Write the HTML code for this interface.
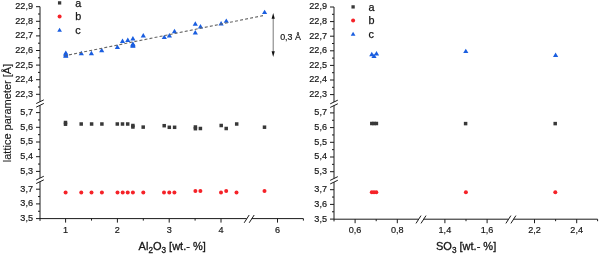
<!DOCTYPE html>
<html><head><meta charset="utf-8"><title>lattice parameter</title>
<style>
html,body{margin:0;padding:0;background:#fff;width:600px;height:255px;overflow:hidden}
svg{display:block}
text{font-family:"Liberation Sans", Arial, sans-serif;fill:#151515;stroke:#151515;stroke-width:0.18px}
.ti{stroke-width:0.3px}
.lg{stroke-width:0.25px}
.yt{stroke-width:0.1px}
</style></head><body>
<svg width="600" height="255" viewBox="0 0 600 255">
<rect width="600" height="255" fill="#fff"/>
<line x1="40.00" y1="6.70" x2="40.00" y2="101.70" stroke="#1a1a1a" stroke-width="1.0" />
<line x1="40.00" y1="105.30" x2="40.00" y2="178.10" stroke="#1a1a1a" stroke-width="1.0" />
<line x1="40.00" y1="181.70" x2="40.00" y2="220.90" stroke="#1a1a1a" stroke-width="1.0" />
<line x1="36.20" y1="103.55" x2="43.80" y2="99.85" stroke="#1a1a1a" stroke-width="1.0" />
<line x1="36.20" y1="107.15" x2="43.80" y2="103.45" stroke="#1a1a1a" stroke-width="1.0" />
<line x1="36.20" y1="179.95" x2="43.80" y2="176.25" stroke="#1a1a1a" stroke-width="1.0" />
<line x1="36.20" y1="183.55" x2="43.80" y2="179.85" stroke="#1a1a1a" stroke-width="1.0" />
<line x1="36.00" y1="94.30" x2="40.00" y2="94.30" stroke="#1a1a1a" stroke-width="1.0" />
<text x="33.00" y="96.70" font-size="9.1" text-anchor="end" >22,3</text>
<line x1="36.00" y1="79.70" x2="40.00" y2="79.70" stroke="#1a1a1a" stroke-width="1.0" />
<text x="33.00" y="82.10" font-size="9.1" text-anchor="end" >22,4</text>
<line x1="36.00" y1="65.10" x2="40.00" y2="65.10" stroke="#1a1a1a" stroke-width="1.0" />
<text x="33.00" y="67.50" font-size="9.1" text-anchor="end" >22,5</text>
<line x1="36.00" y1="50.50" x2="40.00" y2="50.50" stroke="#1a1a1a" stroke-width="1.0" />
<text x="33.00" y="52.90" font-size="9.1" text-anchor="end" >22,6</text>
<line x1="36.00" y1="35.90" x2="40.00" y2="35.90" stroke="#1a1a1a" stroke-width="1.0" />
<text x="33.00" y="38.30" font-size="9.1" text-anchor="end" >22,7</text>
<line x1="36.00" y1="21.30" x2="40.00" y2="21.30" stroke="#1a1a1a" stroke-width="1.0" />
<text x="33.00" y="23.70" font-size="9.1" text-anchor="end" >22,8</text>
<line x1="36.00" y1="6.70" x2="40.00" y2="6.70" stroke="#1a1a1a" stroke-width="1.0" />
<text x="33.00" y="9.10" font-size="9.1" text-anchor="end" >22,9</text>
<line x1="38.00" y1="87.00" x2="40.00" y2="87.00" stroke="#1a1a1a" stroke-width="1.0" />
<line x1="38.00" y1="72.40" x2="40.00" y2="72.40" stroke="#1a1a1a" stroke-width="1.0" />
<line x1="38.00" y1="57.80" x2="40.00" y2="57.80" stroke="#1a1a1a" stroke-width="1.0" />
<line x1="38.00" y1="43.20" x2="40.00" y2="43.20" stroke="#1a1a1a" stroke-width="1.0" />
<line x1="38.00" y1="28.60" x2="40.00" y2="28.60" stroke="#1a1a1a" stroke-width="1.0" />
<line x1="38.00" y1="14.00" x2="40.00" y2="14.00" stroke="#1a1a1a" stroke-width="1.0" />
<line x1="36.00" y1="171.40" x2="40.00" y2="171.40" stroke="#1a1a1a" stroke-width="1.0" />
<text x="33.00" y="173.80" font-size="9.1" text-anchor="end" >5,3</text>
<line x1="36.00" y1="156.70" x2="40.00" y2="156.70" stroke="#1a1a1a" stroke-width="1.0" />
<text x="33.00" y="159.10" font-size="9.1" text-anchor="end" >5,4</text>
<line x1="36.00" y1="142.00" x2="40.00" y2="142.00" stroke="#1a1a1a" stroke-width="1.0" />
<text x="33.00" y="144.40" font-size="9.1" text-anchor="end" >5,5</text>
<line x1="36.00" y1="127.30" x2="40.00" y2="127.30" stroke="#1a1a1a" stroke-width="1.0" />
<text x="33.00" y="129.70" font-size="9.1" text-anchor="end" >5,6</text>
<line x1="36.00" y1="112.60" x2="40.00" y2="112.60" stroke="#1a1a1a" stroke-width="1.0" />
<text x="33.00" y="115.00" font-size="9.1" text-anchor="end" >5,7</text>
<line x1="38.00" y1="164.05" x2="40.00" y2="164.05" stroke="#1a1a1a" stroke-width="1.0" />
<line x1="38.00" y1="149.35" x2="40.00" y2="149.35" stroke="#1a1a1a" stroke-width="1.0" />
<line x1="38.00" y1="134.65" x2="40.00" y2="134.65" stroke="#1a1a1a" stroke-width="1.0" />
<line x1="38.00" y1="119.95" x2="40.00" y2="119.95" stroke="#1a1a1a" stroke-width="1.0" />
<line x1="36.00" y1="218.60" x2="40.00" y2="218.60" stroke="#1a1a1a" stroke-width="1.0" />
<text x="33.00" y="221.00" font-size="9.1" text-anchor="end" >3,5</text>
<line x1="36.00" y1="203.90" x2="40.00" y2="203.90" stroke="#1a1a1a" stroke-width="1.0" />
<text x="33.00" y="206.30" font-size="9.1" text-anchor="end" >3,6</text>
<line x1="36.00" y1="189.20" x2="40.00" y2="189.20" stroke="#1a1a1a" stroke-width="1.0" />
<text x="33.00" y="191.60" font-size="9.1" text-anchor="end" >3,7</text>
<line x1="38.00" y1="211.25" x2="40.00" y2="211.25" stroke="#1a1a1a" stroke-width="1.0" />
<line x1="38.00" y1="196.55" x2="40.00" y2="196.55" stroke="#1a1a1a" stroke-width="1.0" />
<line x1="40.00" y1="218.60" x2="246.70" y2="218.60" stroke="#1a1a1a" stroke-width="1.0" />
<line x1="251.70" y1="218.60" x2="303.40" y2="218.60" stroke="#1a1a1a" stroke-width="1.0" />
<line x1="244.20" y1="222.80" x2="249.20" y2="215.00" stroke="#1a1a1a" stroke-width="1.0" />
<line x1="249.20" y1="222.80" x2="254.20" y2="215.00" stroke="#1a1a1a" stroke-width="1.0" />
<line x1="65.60" y1="218.60" x2="65.60" y2="222.60" stroke="#1a1a1a" stroke-width="1.0" />
<text x="65.60" y="233.00" font-size="9.1" text-anchor="middle" >1</text>
<line x1="117.40" y1="218.60" x2="117.40" y2="222.60" stroke="#1a1a1a" stroke-width="1.0" />
<text x="117.40" y="233.00" font-size="9.1" text-anchor="middle" >2</text>
<line x1="169.20" y1="218.60" x2="169.20" y2="222.60" stroke="#1a1a1a" stroke-width="1.0" />
<text x="169.20" y="233.00" font-size="9.1" text-anchor="middle" >3</text>
<line x1="221.00" y1="218.60" x2="221.00" y2="222.60" stroke="#1a1a1a" stroke-width="1.0" />
<text x="221.00" y="233.00" font-size="9.1" text-anchor="middle" >4</text>
<line x1="277.50" y1="218.60" x2="277.50" y2="222.60" stroke="#1a1a1a" stroke-width="1.0" />
<text x="277.50" y="233.00" font-size="9.1" text-anchor="middle" >6</text>
<line x1="91.50" y1="218.60" x2="91.50" y2="220.60" stroke="#1a1a1a" stroke-width="1.0" />
<line x1="143.30" y1="218.60" x2="143.30" y2="220.60" stroke="#1a1a1a" stroke-width="1.0" />
<line x1="195.10" y1="218.60" x2="195.10" y2="220.60" stroke="#1a1a1a" stroke-width="1.0" />
<line x1="303.40" y1="218.60" x2="303.40" y2="220.60" stroke="#1a1a1a" stroke-width="1.0" />
<line x1="334.00" y1="7.00" x2="334.00" y2="102.00" stroke="#1a1a1a" stroke-width="1.0" />
<line x1="334.00" y1="105.60" x2="334.00" y2="178.50" stroke="#1a1a1a" stroke-width="1.0" />
<line x1="334.00" y1="182.10" x2="334.00" y2="221.40" stroke="#1a1a1a" stroke-width="1.0" />
<line x1="330.20" y1="103.85" x2="337.80" y2="100.15" stroke="#1a1a1a" stroke-width="1.0" />
<line x1="330.20" y1="107.45" x2="337.80" y2="103.75" stroke="#1a1a1a" stroke-width="1.0" />
<line x1="330.20" y1="180.35" x2="337.80" y2="176.65" stroke="#1a1a1a" stroke-width="1.0" />
<line x1="330.20" y1="183.95" x2="337.80" y2="180.25" stroke="#1a1a1a" stroke-width="1.0" />
<line x1="330.00" y1="94.60" x2="334.00" y2="94.60" stroke="#1a1a1a" stroke-width="1.0" />
<text x="327.00" y="97.00" font-size="9.1" text-anchor="end" >22,3</text>
<line x1="330.00" y1="80.00" x2="334.00" y2="80.00" stroke="#1a1a1a" stroke-width="1.0" />
<text x="327.00" y="82.40" font-size="9.1" text-anchor="end" >22,4</text>
<line x1="330.00" y1="65.40" x2="334.00" y2="65.40" stroke="#1a1a1a" stroke-width="1.0" />
<text x="327.00" y="67.80" font-size="9.1" text-anchor="end" >22,5</text>
<line x1="330.00" y1="50.80" x2="334.00" y2="50.80" stroke="#1a1a1a" stroke-width="1.0" />
<text x="327.00" y="53.20" font-size="9.1" text-anchor="end" >22,6</text>
<line x1="330.00" y1="36.20" x2="334.00" y2="36.20" stroke="#1a1a1a" stroke-width="1.0" />
<text x="327.00" y="38.60" font-size="9.1" text-anchor="end" >22,7</text>
<line x1="330.00" y1="21.60" x2="334.00" y2="21.60" stroke="#1a1a1a" stroke-width="1.0" />
<text x="327.00" y="24.00" font-size="9.1" text-anchor="end" >22,8</text>
<line x1="330.00" y1="7.00" x2="334.00" y2="7.00" stroke="#1a1a1a" stroke-width="1.0" />
<text x="327.00" y="9.40" font-size="9.1" text-anchor="end" >22,9</text>
<line x1="332.00" y1="87.30" x2="334.00" y2="87.30" stroke="#1a1a1a" stroke-width="1.0" />
<line x1="332.00" y1="72.70" x2="334.00" y2="72.70" stroke="#1a1a1a" stroke-width="1.0" />
<line x1="332.00" y1="58.10" x2="334.00" y2="58.10" stroke="#1a1a1a" stroke-width="1.0" />
<line x1="332.00" y1="43.50" x2="334.00" y2="43.50" stroke="#1a1a1a" stroke-width="1.0" />
<line x1="332.00" y1="28.90" x2="334.00" y2="28.90" stroke="#1a1a1a" stroke-width="1.0" />
<line x1="332.00" y1="14.30" x2="334.00" y2="14.30" stroke="#1a1a1a" stroke-width="1.0" />
<line x1="330.00" y1="171.70" x2="334.00" y2="171.70" stroke="#1a1a1a" stroke-width="1.0" />
<text x="327.00" y="174.10" font-size="9.1" text-anchor="end" >5,3</text>
<line x1="330.00" y1="157.00" x2="334.00" y2="157.00" stroke="#1a1a1a" stroke-width="1.0" />
<text x="327.00" y="159.40" font-size="9.1" text-anchor="end" >5,4</text>
<line x1="330.00" y1="142.30" x2="334.00" y2="142.30" stroke="#1a1a1a" stroke-width="1.0" />
<text x="327.00" y="144.70" font-size="9.1" text-anchor="end" >5,5</text>
<line x1="330.00" y1="127.60" x2="334.00" y2="127.60" stroke="#1a1a1a" stroke-width="1.0" />
<text x="327.00" y="130.00" font-size="9.1" text-anchor="end" >5,6</text>
<line x1="330.00" y1="112.90" x2="334.00" y2="112.90" stroke="#1a1a1a" stroke-width="1.0" />
<text x="327.00" y="115.30" font-size="9.1" text-anchor="end" >5,7</text>
<line x1="332.00" y1="164.35" x2="334.00" y2="164.35" stroke="#1a1a1a" stroke-width="1.0" />
<line x1="332.00" y1="149.65" x2="334.00" y2="149.65" stroke="#1a1a1a" stroke-width="1.0" />
<line x1="332.00" y1="134.95" x2="334.00" y2="134.95" stroke="#1a1a1a" stroke-width="1.0" />
<line x1="332.00" y1="120.25" x2="334.00" y2="120.25" stroke="#1a1a1a" stroke-width="1.0" />
<line x1="330.00" y1="219.10" x2="334.00" y2="219.10" stroke="#1a1a1a" stroke-width="1.0" />
<text x="327.00" y="221.50" font-size="9.1" text-anchor="end" >3,5</text>
<line x1="330.00" y1="204.40" x2="334.00" y2="204.40" stroke="#1a1a1a" stroke-width="1.0" />
<text x="327.00" y="206.80" font-size="9.1" text-anchor="end" >3,6</text>
<line x1="330.00" y1="189.70" x2="334.00" y2="189.70" stroke="#1a1a1a" stroke-width="1.0" />
<text x="327.00" y="192.10" font-size="9.1" text-anchor="end" >3,7</text>
<line x1="332.00" y1="211.75" x2="334.00" y2="211.75" stroke="#1a1a1a" stroke-width="1.0" />
<line x1="332.00" y1="197.05" x2="334.00" y2="197.05" stroke="#1a1a1a" stroke-width="1.0" />
<line x1="334.00" y1="219.20" x2="418.50" y2="219.20" stroke="#1a1a1a" stroke-width="1.0" />
<line x1="423.50" y1="219.20" x2="508.40" y2="219.20" stroke="#1a1a1a" stroke-width="1.0" />
<line x1="513.40" y1="219.20" x2="597.60" y2="219.20" stroke="#1a1a1a" stroke-width="1.0" />
<line x1="416.00" y1="223.40" x2="421.00" y2="215.60" stroke="#1a1a1a" stroke-width="1.0" />
<line x1="421.00" y1="223.40" x2="426.00" y2="215.60" stroke="#1a1a1a" stroke-width="1.0" />
<line x1="505.90" y1="223.40" x2="510.90" y2="215.60" stroke="#1a1a1a" stroke-width="1.0" />
<line x1="510.90" y1="223.40" x2="515.90" y2="215.60" stroke="#1a1a1a" stroke-width="1.0" />
<line x1="355.10" y1="219.20" x2="355.10" y2="223.20" stroke="#1a1a1a" stroke-width="1.0" />
<text x="355.10" y="233.30" font-size="9.1" text-anchor="middle" >0,6</text>
<line x1="397.30" y1="219.20" x2="397.30" y2="223.20" stroke="#1a1a1a" stroke-width="1.0" />
<text x="397.30" y="233.30" font-size="9.1" text-anchor="middle" >0,8</text>
<line x1="444.90" y1="219.20" x2="444.90" y2="223.20" stroke="#1a1a1a" stroke-width="1.0" />
<text x="444.90" y="233.30" font-size="9.1" text-anchor="middle" >1,4</text>
<line x1="487.10" y1="219.20" x2="487.10" y2="223.20" stroke="#1a1a1a" stroke-width="1.0" />
<text x="487.10" y="233.30" font-size="9.1" text-anchor="middle" >1,6</text>
<line x1="534.50" y1="219.20" x2="534.50" y2="223.20" stroke="#1a1a1a" stroke-width="1.0" />
<text x="534.50" y="233.30" font-size="9.1" text-anchor="middle" >2,2</text>
<line x1="576.70" y1="219.20" x2="576.70" y2="223.20" stroke="#1a1a1a" stroke-width="1.0" />
<text x="576.70" y="233.30" font-size="9.1" text-anchor="middle" >2,4</text>
<line x1="376.20" y1="219.20" x2="376.20" y2="221.20" stroke="#1a1a1a" stroke-width="1.0" />
<line x1="466.00" y1="219.20" x2="466.00" y2="221.20" stroke="#1a1a1a" stroke-width="1.0" />
<line x1="555.60" y1="219.20" x2="555.60" y2="221.20" stroke="#1a1a1a" stroke-width="1.0" />
<line x1="597.60" y1="219.20" x2="597.60" y2="221.20" stroke="#1a1a1a" stroke-width="1.0" />
<text class="ti" x="138.6" y="249.7" font-size="11.0">Al<tspan font-size="8.2" dy="3.1">2</tspan><tspan dy="-3.1">O</tspan><tspan font-size="8.2" dy="3.1">3</tspan><tspan dy="-3.1"> [wt.- %]</tspan></text>
<text class="ti" x="436.0" y="249.7" font-size="11.0">SO<tspan font-size="8.2" dy="3.1">3</tspan><tspan dy="-3.1"> [wt.- %]</tspan></text>
<text class="yt" x="0" y="0" font-size="10.6" text-anchor="middle" textLength="98.4" lengthAdjust="spacingAndGlyphs" transform="translate(10.7,113.0) rotate(-90)">lattice parameter [Å]</text>
<rect x="57.95" y="1.25" width="3.3" height="3.3" fill="#383838"/>
<circle cx="59.60" cy="16.40" r="2.0" fill="#f52228"/>
<polygon points="57.25,31.75 61.95,31.75 59.60,27.65" fill="#1a5ee0"/>
<text x="75.20" y="6.80" font-size="10.8" text-anchor="start" class="lg">a</text>
<text x="75.20" y="20.30" font-size="10.8" text-anchor="start" class="lg">b</text>
<text x="75.20" y="33.60" font-size="10.8" text-anchor="start" class="lg">c</text>
<rect x="351.45" y="5.25" width="3.3" height="3.3" fill="#383838"/>
<circle cx="353.10" cy="20.40" r="2.0" fill="#f52228"/>
<polygon points="350.75,35.75 355.45,35.75 353.10,31.65" fill="#1a5ee0"/>
<text x="368.60" y="10.80" font-size="10.8" text-anchor="start" class="lg">a</text>
<text x="368.60" y="24.30" font-size="10.8" text-anchor="start" class="lg">b</text>
<text x="368.60" y="37.60" font-size="10.8" text-anchor="start" class="lg">c</text>
<polygon points="63.20,54.80 68.40,54.80 65.80,50.40" fill="#1a5ee0"/>
<polygon points="63.20,56.00 68.40,56.00 65.80,51.60" fill="#1a5ee0"/>
<polygon points="63.20,57.20 68.40,57.20 65.80,52.80" fill="#1a5ee0"/>
<polygon points="63.20,57.70 68.40,57.70 65.80,53.30" fill="#1a5ee0"/>
<polygon points="78.70,55.20 83.90,55.20 81.30,50.80" fill="#1a5ee0"/>
<polygon points="88.80,55.20 94.00,55.20 91.40,50.80" fill="#1a5ee0"/>
<polygon points="99.10,52.20 104.30,52.20 101.70,47.80" fill="#1a5ee0"/>
<polygon points="114.80,49.00 120.00,49.00 117.40,44.60" fill="#1a5ee0"/>
<polygon points="119.90,43.00 125.10,43.00 122.50,38.60" fill="#1a5ee0"/>
<polygon points="125.20,41.90 130.40,41.90 127.80,37.50" fill="#1a5ee0"/>
<polygon points="130.30,40.40 135.50,40.40 132.90,36.00" fill="#1a5ee0"/>
<polygon points="130.30,45.80 135.50,45.80 132.90,41.40" fill="#1a5ee0"/>
<polygon points="130.30,46.50 135.50,46.50 132.90,42.10" fill="#1a5ee0"/>
<polygon points="130.30,47.20 135.50,47.20 132.90,42.80" fill="#1a5ee0"/>
<polygon points="130.30,47.70 135.50,47.70 132.90,43.30" fill="#1a5ee0"/>
<polygon points="140.70,37.50 145.90,37.50 143.30,33.10" fill="#1a5ee0"/>
<polygon points="161.70,39.10 166.90,39.10 164.30,34.70" fill="#1a5ee0"/>
<polygon points="166.80,37.50 172.00,37.50 169.40,33.10" fill="#1a5ee0"/>
<polygon points="171.90,33.20 177.10,33.20 174.50,28.80" fill="#1a5ee0"/>
<polygon points="192.70,25.70 197.90,25.70 195.30,21.30" fill="#1a5ee0"/>
<polygon points="192.70,34.50 197.90,34.50 195.30,30.10" fill="#1a5ee0"/>
<polygon points="197.90,28.50 203.10,28.50 200.50,24.10" fill="#1a5ee0"/>
<polygon points="218.50,25.50 223.70,25.50 221.10,21.10" fill="#1a5ee0"/>
<polygon points="223.70,22.80 228.90,22.80 226.30,18.40" fill="#1a5ee0"/>
<polygon points="262.00,14.10 267.20,14.10 264.60,9.70" fill="#1a5ee0"/>
<rect x="63.75" y="120.75" width="3.5" height="3.5" fill="#383838"/>
<rect x="63.75" y="122.45" width="3.5" height="3.5" fill="#383838"/>
<rect x="79.45" y="122.25" width="3.5" height="3.5" fill="#383838"/>
<rect x="89.85" y="122.25" width="3.5" height="3.5" fill="#383838"/>
<rect x="100.15" y="122.25" width="3.5" height="3.5" fill="#383838"/>
<rect x="115.55" y="122.25" width="3.5" height="3.5" fill="#383838"/>
<rect x="120.75" y="122.25" width="3.5" height="3.5" fill="#383838"/>
<rect x="125.95" y="122.25" width="3.5" height="3.5" fill="#383838"/>
<rect x="131.15" y="123.75" width="3.5" height="3.5" fill="#383838"/>
<rect x="131.15" y="125.25" width="3.5" height="3.5" fill="#383838"/>
<rect x="141.45" y="125.35" width="3.5" height="3.5" fill="#383838"/>
<rect x="162.45" y="123.95" width="3.5" height="3.5" fill="#383838"/>
<rect x="167.55" y="125.55" width="3.5" height="3.5" fill="#383838"/>
<rect x="172.85" y="125.55" width="3.5" height="3.5" fill="#383838"/>
<rect x="193.65" y="125.25" width="3.5" height="3.5" fill="#383838"/>
<rect x="193.65" y="126.95" width="3.5" height="3.5" fill="#383838"/>
<rect x="198.65" y="126.75" width="3.5" height="3.5" fill="#383838"/>
<rect x="219.45" y="123.75" width="3.5" height="3.5" fill="#383838"/>
<rect x="224.45" y="126.75" width="3.5" height="3.5" fill="#383838"/>
<rect x="234.95" y="122.25" width="3.5" height="3.5" fill="#383838"/>
<rect x="262.75" y="125.45" width="3.5" height="3.5" fill="#383838"/>
<circle cx="65.60" cy="192.40" r="2.0" fill="#f52228"/>
<circle cx="81.25" cy="192.40" r="2.0" fill="#f52228"/>
<circle cx="91.50" cy="192.40" r="2.0" fill="#f52228"/>
<circle cx="101.90" cy="192.40" r="2.0" fill="#f52228"/>
<circle cx="117.50" cy="192.40" r="2.0" fill="#f52228"/>
<circle cx="122.70" cy="192.40" r="2.0" fill="#f52228"/>
<circle cx="127.70" cy="192.40" r="2.0" fill="#f52228"/>
<circle cx="132.90" cy="192.40" r="2.0" fill="#f52228"/>
<circle cx="143.30" cy="192.40" r="2.0" fill="#f52228"/>
<circle cx="164.00" cy="192.40" r="2.0" fill="#f52228"/>
<circle cx="169.30" cy="192.40" r="2.0" fill="#f52228"/>
<circle cx="174.40" cy="192.40" r="2.0" fill="#f52228"/>
<circle cx="195.40" cy="191.00" r="2.0" fill="#f52228"/>
<circle cx="200.40" cy="191.00" r="2.0" fill="#f52228"/>
<circle cx="221.00" cy="192.40" r="2.0" fill="#f52228"/>
<circle cx="226.20" cy="191.00" r="2.0" fill="#f52228"/>
<circle cx="236.50" cy="192.40" r="2.0" fill="#f52228"/>
<circle cx="264.50" cy="191.00" r="2.0" fill="#f52228"/>
<line x1="65.50" y1="55.60" x2="263.00" y2="15.60" stroke="#666666" stroke-width="1.1" stroke-dasharray="3,2.13" stroke-dashoffset="1.5"/>
<line x1="273.20" y1="17.50" x2="273.20" y2="52.50" stroke="#555" stroke-width="0.8" />
<polygon points="273.2,13.1 271.6,18.8 274.8,18.8" fill="#111"/>
<polygon points="273.2,56.9 271.6,51.2 274.8,51.2" fill="#111"/>
<text x="280.20" y="39.60" font-size="8.9" text-anchor="start" >0,3 Å</text>
<polygon points="369.20,56.20 374.40,56.20 371.80,51.80" fill="#1a5ee0"/>
<polygon points="371.40,58.00 376.60,58.00 374.00,53.60" fill="#1a5ee0"/>
<polygon points="373.90,55.50 379.10,55.50 376.50,51.10" fill="#1a5ee0"/>
<polygon points="463.20,53.10 468.40,53.10 465.80,48.70" fill="#1a5ee0"/>
<polygon points="553.00,57.00 558.20,57.00 555.60,52.60" fill="#1a5ee0"/>
<rect x="370.05" y="121.75" width="3.5" height="3.5" fill="#383838"/>
<rect x="372.25" y="121.75" width="3.5" height="3.5" fill="#383838"/>
<rect x="374.65" y="121.75" width="3.5" height="3.5" fill="#383838"/>
<rect x="463.85" y="121.85" width="3.5" height="3.5" fill="#383838"/>
<rect x="553.45" y="121.85" width="3.5" height="3.5" fill="#383838"/>
<circle cx="371.80" cy="192.30" r="2.0" fill="#f52228"/>
<circle cx="374.00" cy="192.30" r="2.0" fill="#f52228"/>
<circle cx="376.30" cy="192.30" r="2.0" fill="#f52228"/>
<circle cx="465.90" cy="192.20" r="2.0" fill="#f52228"/>
<circle cx="555.30" cy="192.20" r="2.0" fill="#f52228"/>
</svg>
</body></html>
